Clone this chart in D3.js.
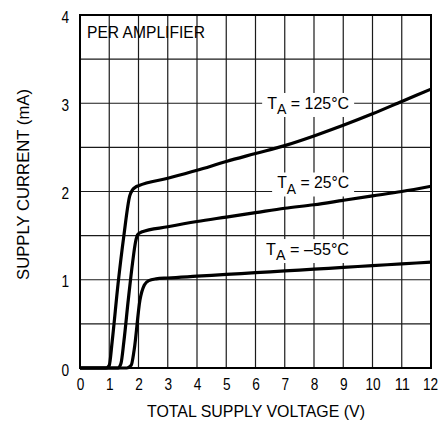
<!DOCTYPE html>
<html lang="en">
<head>
<meta charset="UTF-8">
<title>Supply Current vs Supply Voltage</title>
<style>
    body { margin: 0; background: white; }
    svg text { font-family: "Liberation Sans", Arial, sans-serif; fill: #000; }
    .grid line { stroke: #1a1a1a; stroke-width: 1.2px; }
    .curve { fill: none; stroke: #000; stroke-width: 3.2px; stroke-linejoin: round; }
</style>
</head>
<body>
<svg width="441" height="421" id="chart"></svg>
<script src="https://d3js.org/d3.v7.min.js"></script>
<script>
    // tick labels
    const xTicks = [0, 1, 2, 3, 4, 5, 6, 7, 8, 9, 10, 11, 12];
    const yTicks = [0, 1, 2, 3, 4];
    const yGrid = [0.5, 1, 1.5, 2, 2.5, 3, 3.5];

    // curves: [volts, mA]
    const t125 = [[0, 0], [0.9, 0], [1.0, 0.03], [1.1, 0.3], [1.3, 0.95], [1.5, 1.5], [1.7, 1.95], [1.8, 2.02], [1.9, 2.05], [2, 2.065],
        [3, 2.15], [4, 2.24], [5, 2.34], [6, 2.43], [7, 2.52], [8, 2.63], [9, 2.75], [10, 2.88], [11, 3.02], [12, 3.16]];
    const t25 = [[0, 0], [1.3, 0], [1.4, 0.05], [1.5, 0.3], [1.65, 0.77], [1.8, 1.2], [1.9, 1.43], [1.97, 1.51], [2.1, 1.54],
        [3, 1.6], [4, 1.66], [5, 1.71], [6, 1.76], [7, 1.81], [8, 1.85], [9, 1.9], [10, 1.95], [11, 2.0], [12, 2.06]];
    const tm55 = [[0, 0], [1.6, 0], [1.75, 0.03], [1.85, 0.2], [2.05, 0.77], [2.2, 0.94], [2.35, 0.99], [2.6, 1.01],
        [3, 1.02], [4, 1.04], [5, 1.06], [6, 1.08], [7, 1.1], [8, 1.12], [9, 1.14], [10, 1.16], [11, 1.18], [12, 1.2]];

    // labels: temperature text, centre volts, baseline mA
    const curveLabels = [
        { temp: '125°C', v: 7.8, i: 2.935, w: 82 },
        { temp: '25°C', v: 7.97, i: 2.034, w: 72 },
        { temp: '–55°C', v: 7.78, i: 1.28, w: 83 }
    ];

    const svg = d3.select('#chart');
    const x = d3.scaleLinear().domain([0, 12]).range([80, 431]);
    const y = d3.scaleLinear().domain([0, 4]).range([368, 15]);

    function squeeze(sel, w) {
        sel.attr('textLength', w).attr('lengthAdjust', 'spacingAndGlyphs');
    }

    // grid
    const grid = svg.append('g').attr('class', 'grid');
    grid.selectAll('.vx').data(xTicks.slice(1, -1)).enter().append('line')
        .attr('x1', d => x(d)).attr('x2', d => x(d))
        .attr('y1', y(0)).attr('y2', y(4));
    grid.selectAll('.hy').data(yGrid).enter().append('line')
        .attr('x1', x(0)).attr('x2', x(12))
        .attr('y1', d => y(d)).attr('y2', d => y(d));

    // curve labels with white boxes
    curveLabels.forEach(l => {
        const g = svg.append('g');
        const t = g.append('text')
            .attr('text-anchor', 'middle')
            .style('font-size', '17px');
        t.append('tspan').text('T');
        t.append('tspan').attr('dy', 5).style('font-size', '15px').text('A');
        t.append('tspan').attr('dy', -5).text(' = ' + l.temp);
        const b = t.node().getBBox();
        const k = l.w / b.width;
        g.attr('transform', `translate(${x(l.v)},${y(l.i)}) scale(${k},1)`);
        g.insert('rect', 'text')
            .attr('x', b.x - 5 / k).attr('y', b.y - 1)
            .attr('width', b.width + 10 / k).attr('height', b.height + 1)
            .attr('fill', 'white');
    });

    // curves
    const line = d3.line().x(d => x(d[0])).y(d => y(d[1])).curve(d3.curveMonotoneX);
    [t125, t25, tm55].forEach(s => {
        svg.append('path').datum(s).attr('class', 'curve').attr('d', line);
    });

    // frame
    svg.append('rect')
        .attr('x', x(0)).attr('y', y(4))
        .attr('width', x(12) - x(0)).attr('height', y(0) - y(4))
        .attr('fill', 'none').attr('stroke', '#000').attr('stroke-width', 2);

    // axes
    const xAxis = svg.append('g')
        .attr('transform', `translate(0,${y(0)})`)
        .call(d3.axisBottom(x).tickValues(xTicks).tickSize(0).tickPadding(10).tickFormat(d3.format('d')));
    const yAxis = svg.append('g')
        .attr('transform', `translate(${x(0)},0)`)
        .call(d3.axisLeft(y).tickValues(yTicks).tickSize(0).tickPadding(11).tickFormat(d3.format('d')));
    [xAxis, yAxis].forEach(a => {
        a.select('.domain').remove();
        a.selectAll('text')
            .style('font-size', '17px').attr('font-family', null)
            .attr('textLength', d => String(d).length * 7.6)
            .attr('lengthAdjust', 'spacingAndGlyphs');
    });
    yAxis.selectAll('text').attr('dy', '0.42em');
    xAxis.selectAll('text').filter(d => d === 12).attr('x', -1);

    squeeze(svg.append('text')
        .attr('x', 87).attr('y', 38)
        .style('font-size', '17px')
        .text('PER AMPLIFIER'), 118);

    squeeze(svg.append('text')
        .attr('x', 147).attr('y', 417)
        .style('font-size', '17px')
        .text('TOTAL SUPPLY VOLTAGE (V)'), 218);

    squeeze(svg.append('text')
        .attr('transform', `translate(29,280) rotate(-90)`)
        .style('font-size', '17px')
        .text('SUPPLY CURRENT (mA)'), 191);
</script>
</body>
</html>
